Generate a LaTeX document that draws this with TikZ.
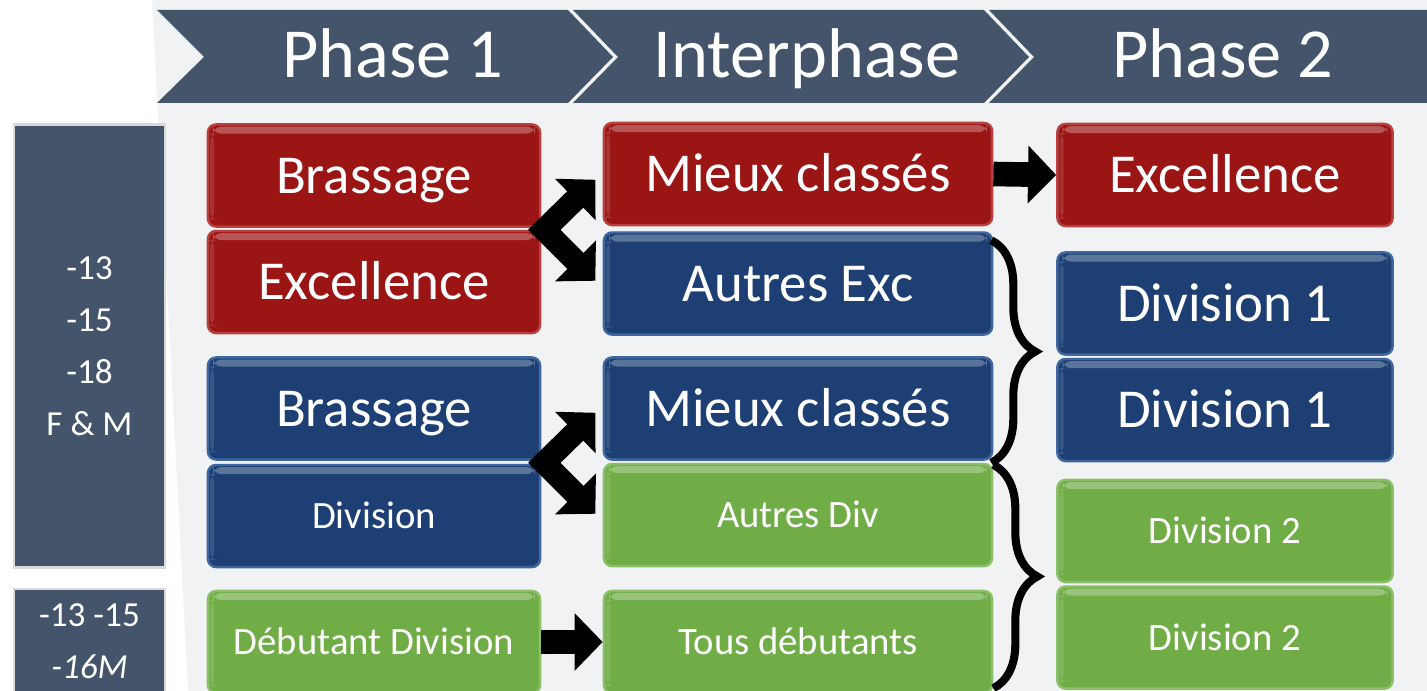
\documentclass[tikz,border=0pt]{standalone}
\usepackage{fontspec}
\setmainfont{Carlito}
\usetikzlibrary{positioning, calc, arrows.meta, decorations.pathreplacing}
\definecolor{slate}{HTML}{44546A}
\definecolor{bgcol}{HTML}{F1F2F3}
\definecolor{boxred}{HTML}{9C1515}
\definecolor{redrim}{HTML}{B84040}
\definecolor{boxblue}{HTML}{1D3F74}
\definecolor{bluerim}{HTML}{3E679E}
\definecolor{boxgreen}{HTML}{70AD47}
\definecolor{greenrim}{HTML}{8CBF6A}

\begin{document}
\begin{tikzpicture}[x=0.01cm, y=-0.01cm,
    box/.style={rounded corners=2.3pt, minimum height=1.02cm, inner sep=0pt, text=white, line width=0.7pt,
      text depth=0pt,
      path picture={\fill[white, opacity=0.28] ([xshift=1.5pt,yshift=-0.6pt]path picture bounding box.north west) rectangle ([xshift=-1.5pt,yshift=-2.6pt]path picture bounding box.north east);
        \fill[white, opacity=0.12] ([xshift=0.6pt,yshift=-2.6pt]path picture bounding box.north west) rectangle ([xshift=1.8pt,yshift=2pt]path picture bounding box.south west);}},
    redbox/.style={box, fill=boxred, draw=redrim},
    bluebox/.style={box, fill=boxblue, draw=bluerim},
    greenbox/.style={box, fill=boxgreen, draw=greenrim},
    colone/.style={minimum width=3.32cm},
    coltwo/.style={minimum width=3.88cm},
    colthree/.style={minimum width=3.35cm},
    big/.style={font=\fontsize{15.6}{18}\selectfont, text height=10pt},
    small/.style={font=\fontsize{11}{13}\selectfont, text height=7.1pt},
    panel/.style={fill=slate, draw=black!15, line width=0.8pt, text=white, align=center, minimum width=1.51cm, inner sep=0pt},
    phase/.style={text=white, font=\fontsize{20}{24}\selectfont, text height=12.9pt, text depth=0pt},
    bigarrow/.style={line width=7pt, -{Triangle[width=16pt,length=8pt]}},
    dblarrow/.style={line width=6.5pt, line join=miter, {Triangle[width=16pt,length=8pt]}-{Triangle[width=16pt,length=8pt]}},
    bracket/.style={line width=2.3pt, decorate, decoration={brace, amplitude=12.5pt}}]

    \useasboundingbox (0,0) rectangle (1427,691);
    \fill[bgcol] (0,0) rectangle (1427,691);
    \fill[white] (0,0) -- (152,0) -- (188,691) -- (0,691) -- cycle;

    \fill[slate] (157,10) -- (568,10) -- (613,57) -- (568,103) -- (157,103) -- (204,57) -- cycle;
    \fill[slate] (573,10) -- (984,10) -- (1029,57) -- (984,103) -- (573,103) -- (618,57) -- cycle;
    \fill[slate] (989,10) -- (1440,10) -- (1440,103) -- (989,103) -- (1034,57) -- cycle;
    \node[phase] (ph1) at (393,55) {Phase 1};
    \node[phase] (inter) at (807,55) {Interphase};
    \node[phase] (ph2) at (1223,55) {Phase 2};

    \node[panel, minimum height=4.42cm, font=\fontsize{10}{14.8}\selectfont] (ages) at (89.5,346) {-13\\-15\\-18\\F \& M};
    \node[panel, minimum height=1.04cm, font=\fontsize{10}{14.8}\selectfont] (agesdeb) at (89.5,641) {-13 -15\\\textit{-16M}};

    \node[redbox, colone, big] (bra1) at (374,175.5) {Brassage};
    \node[redbox, colone, big, below=0.02cm of bra1] (exc1) {Excellence};
    \node[bluebox, colone, big] (bra2) at (374,408.5) {Brassage};
    \node[bluebox, colone, small, below=0.03cm of bra2] (div) {Division};
    \node[greenbox, colone, small] (deb) at (374,642) {Débutant Division};

    \node[redbox, coltwo, big] (mcr) at (798,174) {Mieux classés};
    \node[bluebox, coltwo, big, below=0.05cm of mcr] (ae) {Autres Exc};
    \node[bluebox, coltwo, big] (mcb) at (798,408.5) {Mieux classés};
    \node[greenbox, coltwo, small, below=0.02cm of mcb] (ad) {Autres Div};
    \node[greenbox, coltwo, small] (tous) at (798,642) {Tous débutants};

    \node[redbox, colthree, big] (exc3) at (1225,175) {Excellence};
    \node[bluebox, colthree, big] (d1a) at (1225,303.5) {Division 1};
    \node[bluebox, colthree, big, below=0.02cm of d1a] (d1b) {Division 1};
    \node[greenbox, colthree, small] (d2a) at (1225,531) {Division 2};
    \node[greenbox, colthree, small, below=0.02cm of d2a] (d2b) {Division 2};

    \coordinate (j1) at ($(bra1.south east)+(3,2)$);
    \coordinate (j2) at ($(bra2.south east)+(3,2)$);
    \draw[dblarrow] ($(j1)+(51,-50)$) -- (j1) -- ($(j1)+(51,51)$);
    \draw[dblarrow] ($(j2)+(51,-50)$) -- (j2) -- ($(j2)+(51,51)$);

    \draw[bigarrow] (mcr.east) -- (exc3.west);
    \draw[bigarrow] (deb.east) -- (tous.west);

    \draw[bracket] ($(ae.north east)+(-2,9)$) -- ($(mcb.south east)+(-2,2)$);
    \draw[bracket] ($(ad.north east)+(0,2)$) -- ($(tous.south east)+(0,-6)$);
  \end{tikzpicture}
\end{document}
